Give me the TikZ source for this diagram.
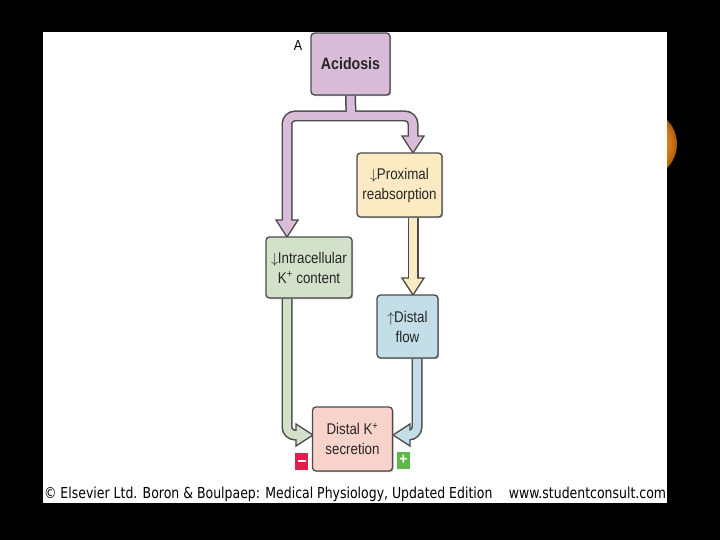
\documentclass[tikz,border=0pt]{standalone}
\usepackage{fontspec}
\setmainfont{Liberation Sans}[FakeStretch=0.86]
\newfontfamily\footfont{DejaVu Sans}
\usetikzlibrary{backgrounds,shadows}
\definecolor{edgec}{HTML}{4A4A4A}
\definecolor{purp}{HTML}{D9BDD8}
\definecolor{yell}{HTML}{FCEAC2}
\definecolor{gren}{HTML}{D3E1CB}
\definecolor{blu}{HTML}{C4DEE7}
\definecolor{pink}{HTML}{F8D3CB}
\definecolor{minusred}{HTML}{E11F4C}
\definecolor{plusgreen}{HTML}{5CB947}
\definecolor{orA}{HTML}{E08A20}
\definecolor{orB}{HTML}{C06A12}
\definecolor{orC}{HTML}{6A3A08}
\pgfdeclareradialshading{orball}{\pgfpoint{0cm}{0cm}}{%
  color(0cm)=(orA); color(0.55cm)=(orA); color(0.8cm)=(orB); color(1cm)=(orC)}
\newcommand{\dnar}{\raisebox{-0.5pt}{$\downarrow$}\kern-0.5pt}
\newcommand{\upar}{\raisebox{-0.5pt}{$\uparrow$}\kern-0.5pt}
\tikzset{
  box/.style={draw=edgec, line width=1.3pt, rounded corners=3.5pt, align=center,
    inner sep=0pt, font=\fontsize{15.5}{20}\selectfont, text=black!85,
    drop shadow={shadow xshift=1.2pt, shadow yshift=-1.2pt, fill=black!45, opacity=0.6}},
  shaftout/.style={draw=edgec, line width=11pt, rounded corners=8pt},
  shaftin/.style={draw=#1, line width=8pt, rounded corners=8pt},
  pics/fathead/.style={code={
    \filldraw[draw=edgec, fill=#1, line width=1.3pt, line join=miter]
      (0,0) -- (-11,-17) -- (11,-17) -- cycle;}},
  sign/.style={inner sep=0pt, minimum width=13pt, minimum height=17pt, text=white,
    font=\bfseries\fontsize{16}{16}\selectfont}
}
\begin{document}
\begin{tikzpicture}[x=1pt,y=-1pt]
\useasboundingbox (0,0) rectangle (720,540);

% nodes
\node[box, fill=purp, minimum width=79pt, minimum height=62pt,
      font=\bfseries\fontsize{16.5}{18}\selectfont] (acid) at (350.5,64) {Acidosis};
\node[font=\fontsize{14.5}{15}\selectfont] (lblA) at (298,45.5) {A};
\node[box, fill=yell, minimum width=85pt, minimum height=64pt] (prox) at (399.5,185)
  {\dnar Proximal\\reabsorption};
\node[box, fill=gren, minimum width=86pt, minimum height=61pt] (intra) at (309,267.5)
  {\dnar Intracellular\\K\textsuperscript{+} content};
\node[box, fill=blu, minimum width=61pt, minimum height=63pt] (flow) at (407.5,326.5)
  {\upar Distal\\flow};
\node[box, fill=pink, minimum width=80pt, minimum height=64pt] (sec) at (352.5,439)
  {Distal K\textsuperscript{+}\\secretion};
\node[sign, fill=minusred] (minus) at (301.5,461) {\rule{8pt}{2.8pt}};
\node[sign, fill=plusgreen] (plus) at (403.5,460) {+};
\node[anchor=base] (foot) at (355,498)
  {\resizebox{622pt}{11.5pt}{\footfont \textcopyright{} Elsevier Ltd. Boron \& Boulpaep: Medical Physiology, Updated Edition\quad\ www.studentconsult.com}};

\coordinate (split) at (351,116);
\coordinate (tipL) at (287,237);
\coordinate (tipR) at (413,153);
\coordinate (tipF) at (413,295);
\coordinate (tipG) at (313,435);
\coordinate (tipB) at (393,435);

\begin{scope}[on background layer]
  \fill[black] (0,0) rectangle (720,540);
  \shade[shading=orball] (643,144) circle (34);
  \fill[white] (43,32) rectangle (667,503);

  % purple T
  \draw[shaftout] (acid.south) -- (split);
  \draw[shaftout] (287,222) -- (287,116) -- (413,116) -- (413,138);
  \pic at (tipL) {fathead=purp};
  \pic at (tipR) {fathead=purp};
  \draw[shaftin=purp] (acid.south) -- (split);
  \draw[shaftin=purp] (287,223) -- (287,116) -- (413,116) -- (413,139);

  % yellow
  \draw[shaftout] (prox.south -| tipF) -- (413,279);
  \pic at (tipF) {fathead=yell};
  \draw[shaftin=yell] (prox.south -| tipF) -- (413,280);

  % green
  \draw[shaftout] (intra.south -| 287,0) -- (287,435) -- (297,435);
  \pic[rotate=90] at (tipG) {fathead=gren};
  \draw[shaftin=gren] (intra.south -| 287,0) -- (287,435) -- (298,435);

  % blue
  \draw[shaftout] (flow.south -| 417,0) -- (417,435) -- (409,435);
  \pic[rotate=-90] at (tipB) {fathead=blu};
  \draw[shaftin=blu] (flow.south -| 417,0) -- (417,435) -- (408,435);
\end{scope}
\end{tikzpicture}
\end{document}
